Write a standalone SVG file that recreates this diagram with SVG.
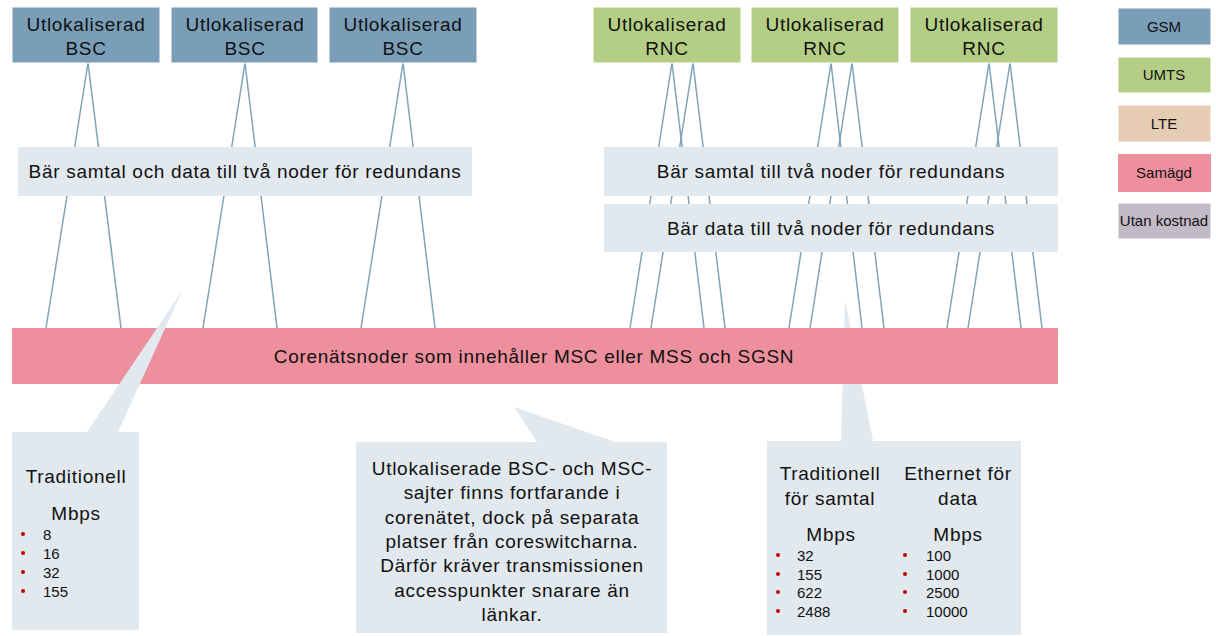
<svg xmlns="http://www.w3.org/2000/svg" width="1216" height="636" viewBox="0 0 1216 636">
<style>
text{font-family:"Liberation Sans",Arial,sans-serif;fill:#111;}
.t{font-size:19px;letter-spacing:0.7px;text-anchor:middle;}
.n{font-size:15px;}
.lg{font-size:15px;text-anchor:middle;}
.gsm{fill:#7B9EB8;stroke:#fff;stroke-width:1;}
.umts{fill:#B4CF85;stroke:#fff;stroke-width:1;}
.lte{fill:#E5CCB3;stroke:#fff;stroke-width:1;}
.sam{fill:#EE8F9D;}
.utan{fill:#C3BAC7;stroke:#fff;stroke-width:1;}
.gray{fill:#E1E8EE;}
.ln{stroke:#7FA3BA;stroke-width:1.5;fill:none;}
.dot{fill:#C00000;}
</style>

<g id="callout-ethernet">
<path class="gray" d="M767,441 H841 L845,300 L873,441 H1021 V635 H767 Z"/>
<text class="t" x="830" y="480">Traditionell</text>
<text class="t" x="830" y="505">för samtal</text>
<text class="t" x="958" y="480">Ethernet för</text>
<text class="t" x="958" y="505">data</text>
<text class="t" x="831" y="541">Mbps</text>
<text class="t" x="958" y="541">Mbps</text>
<circle class="dot" cx="778" cy="555" r="2"/><text class="n" x="797" y="561">32</text>
<circle class="dot" cx="778" cy="574" r="2"/><text class="n" x="797" y="580">155</text>
<circle class="dot" cx="778" cy="592" r="2"/><text class="n" x="797" y="598">622</text>
<circle class="dot" cx="778" cy="611" r="2"/><text class="n" x="797" y="617">2488</text>
<circle class="dot" cx="905" cy="555" r="2"/><text class="n" x="926" y="561">100</text>
<circle class="dot" cx="905" cy="574" r="2"/><text class="n" x="926" y="580">1000</text>
<circle class="dot" cx="905" cy="592" r="2"/><text class="n" x="926" y="598">2500</text>
<circle class="dot" cx="905" cy="611" r="2"/><text class="n" x="926" y="617">10000</text>
</g>

<g id="connectors" class="ln">
<line x1="88" y1="63" x2="46" y2="328"/><line x1="88" y1="63" x2="121" y2="328"/>
<line x1="245" y1="63" x2="203" y2="328"/><line x1="245" y1="63" x2="277" y2="328"/>
<line x1="403" y1="63" x2="361" y2="328"/><line x1="403" y1="63" x2="435" y2="328"/>
<line x1="672" y1="63" x2="630" y2="328"/><line x1="672" y1="63" x2="704" y2="328"/>
<line x1="693" y1="63" x2="651" y2="328"/><line x1="693" y1="63" x2="725" y2="328"/>
<line x1="831" y1="63" x2="789" y2="328"/><line x1="831" y1="63" x2="862" y2="328"/>
<line x1="852" y1="63" x2="810" y2="328"/><line x1="852" y1="63" x2="884" y2="328"/>
<line x1="989" y1="63" x2="947" y2="328"/><line x1="989" y1="63" x2="1021" y2="328"/>
<line x1="1010" y1="63" x2="968" y2="328"/><line x1="1010" y1="63" x2="1042" y2="328"/>
</g>

<g id="label-gsm">
<rect class="gray" x="18" y="147" width="454" height="49"/>
<text class="t" x="245" y="178">Bär samtal och data till två  noder för redundans</text>
</g>
<g id="label-samtal">
<rect class="gray" x="604" y="147" width="454" height="49"/>
<text class="t" x="831" y="178">Bär samtal till två  noder för redundans</text>
</g>
<g id="label-data">
<rect class="gray" x="604" y="204" width="454" height="48"/>
<text class="t" x="831" y="235">Bär data till två  noder för redundans</text>
</g>

<g id="core">
<rect class="sam" x="12" y="328" width="1046" height="56"/>
<text class="t" x="534" y="363">Corenätsnoder som innehåller MSC eller MSS och SGSN</text>
</g>

<g id="callout-traditionell">
<path class="gray" d="M12,432 H87 L182,291 L118,432 H139 V630 H12 Z"/>
<text class="t" x="76" y="483">Traditionell</text>
<text class="t" x="76" y="520">Mbps</text>
<circle class="dot" cx="23" cy="534" r="2"/><text class="n" x="43" y="540">8</text>
<circle class="dot" cx="23" cy="553" r="2"/><text class="n" x="43" y="559">16</text>
<circle class="dot" cx="23" cy="572" r="2"/><text class="n" x="43" y="578">32</text>
<circle class="dot" cx="23" cy="591" r="2"/><text class="n" x="43" y="597">155</text>
</g>

<g id="callout-info">
<path class="gray" d="M356,442 H537 L514,407 L615,442 H667 V633 H356 Z"/>
<text class="t" x="512" y="475">Utlokaliserade BSC- och MSC-</text>
<text class="t" x="512" y="499">sajter finns fortfarande i</text>
<text class="t" x="512" y="524">corenätet, dock på separata</text>
<text class="t" x="512" y="548">platser från coreswitcharna.</text>
<text class="t" x="512" y="572">Därför kräver transmissionen</text>
<text class="t" x="512" y="597">accesspunkter snarare än</text>
<text class="t" x="512" y="621">länkar.</text>
</g>

<g id="bsc1"><rect class="gsm" x="12" y="7" width="148" height="56"/><text class="t" x="86" y="31">Utlokaliserad</text><text class="t" x="86" y="55">BSC</text></g>
<g id="bsc2"><rect class="gsm" x="171" y="7" width="147" height="56"/><text class="t" x="245" y="31">Utlokaliserad</text><text class="t" x="245" y="55">BSC</text></g>
<g id="bsc3"><rect class="gsm" x="329" y="7" width="148" height="56"/><text class="t" x="403" y="31">Utlokaliserad</text><text class="t" x="403" y="55">BSC</text></g>
<g id="rnc1"><rect class="umts" x="593" y="7" width="148" height="56"/><text class="t" x="667" y="31">Utlokaliserad</text><text class="t" x="667" y="55">RNC</text></g>
<g id="rnc2"><rect class="umts" x="751" y="7" width="148" height="56"/><text class="t" x="825" y="31">Utlokaliserad</text><text class="t" x="825" y="55">RNC</text></g>
<g id="rnc3"><rect class="umts" x="910" y="7" width="148" height="56"/><text class="t" x="984" y="31">Utlokaliserad</text><text class="t" x="984" y="55">RNC</text></g>

<g id="legend-gsm"><rect class="gsm" x="1118" y="8" width="93" height="37"/><text class="lg" x="1164" y="32">GSM</text></g>
<g id="legend-umts"><rect class="umts" x="1118" y="57" width="93" height="36"/><text class="lg" x="1164" y="80">UMTS</text></g>
<g id="legend-lte"><rect class="lte" x="1118" y="105" width="93" height="37"/><text class="lg" x="1164" y="129">LTE</text></g>
<g id="legend-samagd"><rect class="sam" x="1118" y="154" width="93" height="38"/><text class="lg" x="1164" y="178">Samägd</text></g>
<g id="legend-utan"><rect class="utan" x="1118" y="203" width="93" height="36"/><text class="lg" x="1164" y="226">Utan kostnad</text></g>
</svg>
